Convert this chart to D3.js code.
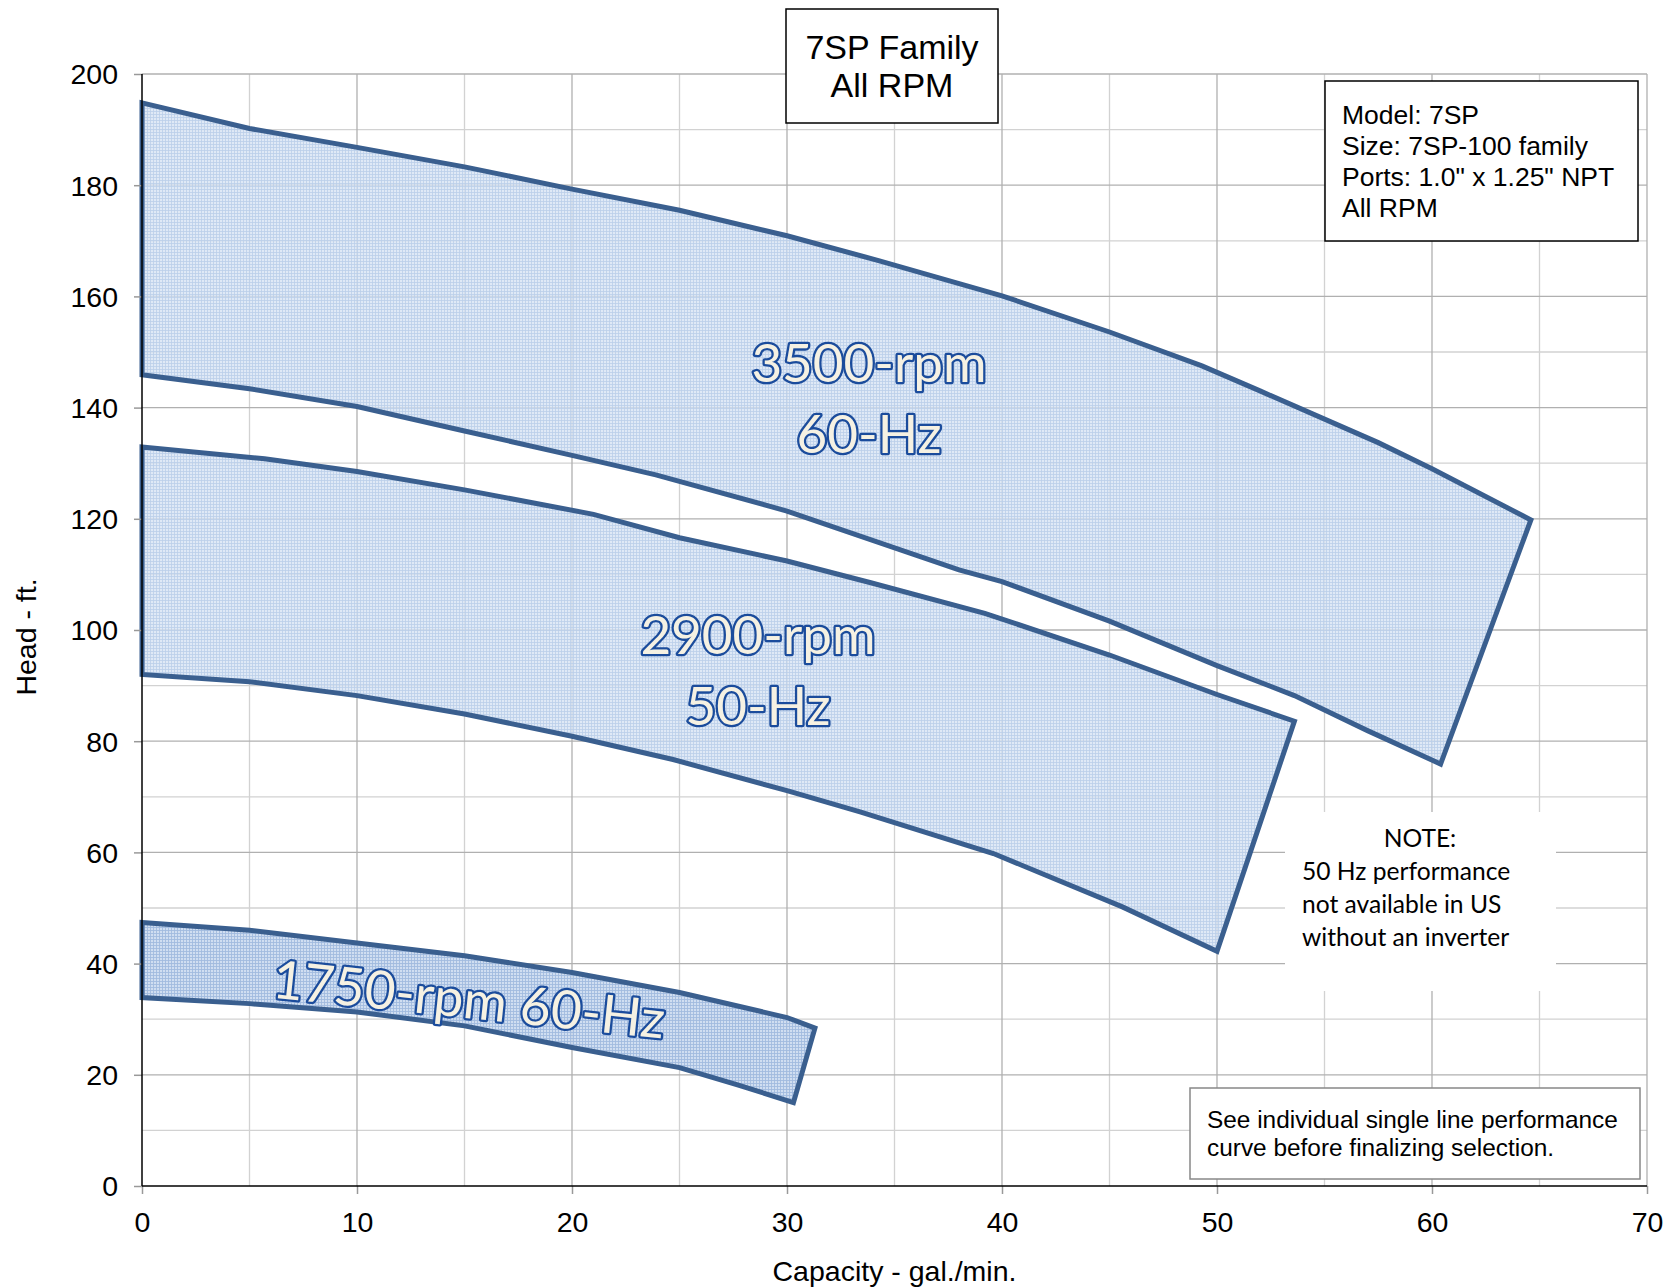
<!DOCTYPE html>
<html><head><meta charset="utf-8">
<script src="https://cdn.jsdelivr.net/npm/d3@7"></script>
<style>
html,body{margin:0;padding:0;background:#fff;}
svg{display:block;}
</style></head>
<body>
<svg id="chart" width="1671" height="1287"></svg>
<script>
// ---- Data ----
const xTicks = [0,10,20,30,40,50,60,70];
const yTicks = [0,20,40,60,80,100,120,140,160,180,200];
const xMinor = [5,15,25,35,45,55,65];
const yMinor = [10,30,50,70,90,110,130,150,170,190];

const band3500Upper = [[0,194.8],[5,190.2],[10,186.8],[15,183.3],[20,179.3],[25,175.5],[30,170.9],[34.3,166.4],[40,160.1],[45,153.6],[49.3,147.5],[52,143],[57.5,133.7],[60,129],[64.6,119.8]];
const band3500Lower = [[0,145.9],[5,143.4],[10,140.2],[15,135.8],[20,131.4],[23.9,127.9],[30,121.4],[38,110.8],[40,108.7],[45,101.6],[50,93.6],[53.6,88.2],[57,81.9],[60.4,75.9]];

const band2900Upper = [[0,132.9],[5.7,130.8],[10,128.5],[15,125.2],[21,120.8],[25,116.6],[30,112.4],[33.9,108.5],[39.2,103],[45,95.5],[50,88.4],[53.6,83.6]];
const band2900Lower = [[0,92],[5,90.7],[10,88.2],[15,84.9],[20,80.9],[24.7,76.7],[30,71.1],[33.4,67.3],[39.6,59.8],[45.6,50.2],[50,42.2]];

const band1750Upper = [[0,47.4],[5,46],[10,43.7],[15,41.4],[20,38.4],[25,34.8],[30,30.3],[31.3,28.4]];
const band1750Lower = [[0,33.9],[5,32.8],[10,31.3],[15,28.8],[20,24.9],[25,21.3],[27.7,18.2],[30.3,15]];

const bands = [
  {name:"3500", upper: band3500Upper, lower: band3500Lower, dense:false},
  {name:"2900", upper: band2900Upper, lower: band2900Lower, dense:false},
  {name:"1750", upper: band1750Upper, lower: band1750Lower, dense:true}
];

const titleLines = ["7SP Family","All RPM"];
const modelLines = ["Model: 7SP","Size: 7SP-100 family","Ports: 1.0\" x 1.25\" NPT","All RPM"];
const noteLines = ["NOTE:","50 Hz performance","not available in US","without an inverter"];
const seeLines = ["See individual single line performance","curve before finalizing selection."];

// ---- Layout ----
const svg = d3.select("#chart");
const x = d3.scaleLinear().domain([0,70]).range([142,1647]);
const y = d3.scaleLinear().domain([0,200]).range([1186,74]);

const defs = svg.append("defs");
function makePattern(id, bg, line) {
  const p = defs.append("pattern").attr("id", id).attr("patternUnits","userSpaceOnUse")
    .attr("width",3).attr("height",3);
  p.append("rect").attr("width",3).attr("height",3).attr("fill",bg);
  p.append("rect").attr("x",0).attr("y",0).attr("width",3).attr("height",1).attr("fill",line);
  p.append("rect").attr("x",0).attr("y",0).attr("width",1).attr("height",3).attr("fill",line);
}
makePattern("fillA","rgba(214,227,243,0.78)","rgba(186,206,233,0.78)");
makePattern("fillB","rgba(200,216,238,0.85)","rgba(160,186,222,0.85)");

// gridlines
const g = svg.append("g");
g.selectAll(".vmin").data(xMinor).join("line")
  .attr("x1",d=>x(d)).attr("x2",d=>x(d)).attr("y1",y(0)).attr("y2",y(200))
  .attr("stroke","#d2d2d2").attr("stroke-width",1.3);
g.selectAll(".hmin").data(yMinor).join("line")
  .attr("y1",d=>y(d)).attr("y2",d=>y(d)).attr("x1",x(0)).attr("x2",x(70))
  .attr("stroke","#d2d2d2").attr("stroke-width",1.3);
g.selectAll(".vmaj").data(xTicks.slice(1)).join("line")
  .attr("x1",d=>x(d)).attr("x2",d=>x(d)).attr("y1",y(0)).attr("y2",y(200))
  .attr("stroke","#b0b0b0").attr("stroke-width",1.3);
g.selectAll(".hmaj").data(yTicks.slice(1)).join("line")
  .attr("y1",d=>y(d)).attr("y2",d=>y(d)).attr("x1",x(0)).attr("x2",x(70))
  .attr("stroke","#b0b0b0").attr("stroke-width",1.3);

// bands
const line = d3.line().x(d=>x(d[0])).y(d=>y(d[1]));
bands.forEach(b=>{
  const pts = b.upper.concat(b.lower.slice().reverse());
  svg.append("path").attr("d", line(pts) + "Z")
    .attr("fill", b.dense ? "url(#fillB)" : "url(#fillA)")
    .attr("stroke","#3a5f8f").attr("stroke-width",5).attr("stroke-linejoin","miter");
});

// axes
const fontA = "Liberation Sans, Arial, sans-serif";
const yAxis = d3.axisLeft(y).tickValues(yTicks).tickSize(8).tickPadding(16);
const xAxis = d3.axisBottom(x).tickValues(xTicks).tickSize(8).tickPadding(18);
const ya = svg.append("g").attr("transform",`translate(${x(0)},0)`).call(yAxis);
const xa = svg.append("g").attr("transform",`translate(0,${y(0)})`).call(xAxis);
[ya,xa].forEach(a=>{
  a.select(".domain").remove();
  a.selectAll(".tick line").attr("stroke","#999").attr("stroke-width",1.5);
  a.selectAll(".tick text").attr("font-family",fontA).attr("font-size",28.5).attr("fill","#000");
});
ya.selectAll(".tick text").attr("dy","0.35em");
svg.append("line").attr("x1",x(0)).attr("x2",x(0)).attr("y1",y(0)).attr("y2",y(200)).attr("stroke","#000").attr("stroke-width",1.5);
svg.append("line").attr("x1",x(0)).attr("x2",x(70)).attr("y1",y(0)).attr("y2",y(0)).attr("stroke","#000").attr("stroke-width",1.5);

svg.append("text").attr("x",(x(0)+x(70))/2).attr("y",1281).attr("text-anchor","middle")
  .attr("font-family",fontA).attr("font-size",28.5).text("Capacity - gal./min.");
svg.append("text").attr("transform",`translate(36,637) rotate(-90)`).attr("text-anchor","middle")
  .attr("font-family",fontA).attr("font-size",28.5).text("Head - ft.");

// band labels
const fontC = "Lato, 'Open Sans', sans-serif";
function bandLabel(txt, cx, cy, rot) {
  svg.append("text").attr("transform",`translate(${cx},${cy}) rotate(${rot||0})`)
    .attr("text-anchor","middle").attr("font-family",fontC).attr("font-size",53)
    .attr("fill","#f5f1e3").attr("stroke","#1b4c9c").attr("stroke-width",4.6)
    .attr("stroke-linejoin","round").attr("paint-order","stroke").text(txt);
}
bandLabel("3500-rpm", 869, 382);
bandLabel("60-Hz", 869, 453);
bandLabel("2900-rpm", 758, 654);
bandLabel("50-Hz", 758, 725);
bandLabel("1750-rpm 60-Hz", 467, 1018, 6);

// title box
svg.append("rect").attr("x",786).attr("y",9).attr("width",212).attr("height",114)
  .attr("fill","#fff").attr("stroke","#000").attr("stroke-width",1.5);
titleLines.forEach((t,i)=>svg.append("text").attr("x",892).attr("y",59+i*38)
  .attr("text-anchor","middle").attr("font-family",fontA).attr("font-size",34).text(t));

// model box
svg.append("rect").attr("x",1325).attr("y",81).attr("width",313).attr("height",160)
  .attr("fill","#fff").attr("stroke","#000").attr("stroke-width",1.5);
modelLines.forEach((t,i)=>svg.append("text").attr("x",1342).attr("y",124+i*31)
  .attr("font-family",fontA).attr("font-size",26.5).text(t));

// note box
svg.append("rect").attr("x",1285).attr("y",812).attr("width",271).attr("height",179).attr("fill","#fff");
noteLines.forEach((t,i)=>svg.append("text")
  .attr("x", i===0 ? 1420 : 1302).attr("text-anchor", i===0 ? "middle" : "start")
  .attr("y",847+i*33).attr("font-family",fontC).attr("font-size",24.6).text(t));

// see box
svg.append("rect").attr("x",1190).attr("y",1088).attr("width",450).attr("height",91)
  .attr("fill","#fff").attr("stroke","#888").attr("stroke-width",1.5);
seeLines.forEach((t,i)=>svg.append("text").attr("x",1207).attr("y",1128+i*28)
  .attr("font-family",fontA).attr("font-size",24.4).text(t));
</script>
</body></html>
